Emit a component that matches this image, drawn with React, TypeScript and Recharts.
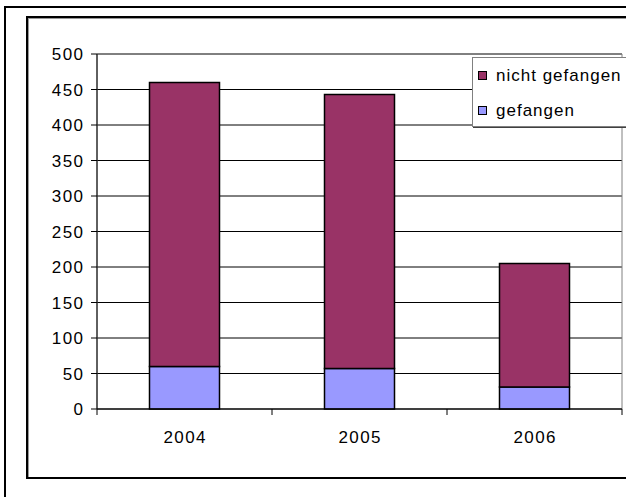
import React from "react";
import { Bar, BarChart, CartesianGrid, Legend, ReferenceArea, XAxis, YAxis } from "recharts";

const years = ["2004", "2005", "2006"];
const gefangen = [60, 57, 31];
const nichtGefangen = [400, 386, 174];
const yTicks = [0, 50, 100, 150, 200, 250, 300, 350, 400, 450, 500];

const COLORS = { nicht: "#993366", gef: "#9999ff" };
const FONT = "'Liberation Sans', Arial, sans-serif";

const data = years.map((year, i) => ({ year, gefangen: gefangen[i], nicht: nichtGefangen[i] }));

const legendItems = [
  { key: "nicht", label: "nicht gefangen", color: COLORS.nicht },
  { key: "gef", label: "gefangen", color: COLORS.gef },
];

function YearTick(props: any) {
  const { x, y, payload, index, width, visibleTicksCount } = props;
  const band = width / visibleTicksCount;
  const left = x - band / 2;
  return (
    <g>
      <line x1={left} x2={left} y1={y} y2={y + 6} stroke="#000" />
      {index === visibleTicksCount - 1 && <line x1={left + band} x2={left + band} y1={y} y2={y + 6} stroke="#000" />}
      <text x={x + 0.7} y={y + 34} textAnchor="middle" fill="#000" fontSize={17} letterSpacing={1.4} fontFamily={FONT}>
        {payload.value}
      </text>
    </g>
  );
}

function LegendBox() {
  return (
    <div
      style={{
        border: "1px solid #808080",
        boxShadow: "1px 1px 0 #404040",
        background: "#fff",
        width: 170,
        height: 70,
        boxSizing: "border-box",
        paddingLeft: 5,
        paddingTop: 4,
        fontFamily: FONT,
        fontSize: 17,
        color: "#000",
        textAlign: "left",
        whiteSpace: "nowrap",
      }}
    >
      {legendItems.map((item) => (
        <div key={item.key} style={{ display: "flex", alignItems: "center", height: 27, marginBottom: 8 }}>
          <span style={{ width: 7, height: 7, border: "1px solid #000", background: item.color, marginRight: 9, flex: "none" }} />
          <span style={{ letterSpacing: 1 }}>{item.label}</span>
        </div>
      ))}
    </div>
  );
}

export default function App() {
  return (
    <div style={{ position: "absolute", left: 0, top: 0, width: 626, height: 497, overflow: "hidden", background: "#fff" }}>
      <div style={{ position: "absolute", left: 4, top: 6, width: 700, height: 600, border: "2px solid #000", boxSizing: "border-box" }} />
      <div
        style={{
          position: "absolute",
          left: 26,
          top: 16,
          width: 700,
          height: 463,
          borderTop: "2px solid #000",
          borderLeft: "2px solid #000",
          borderBottom: "2px solid #000",
          boxShadow: "inset 1px 1px 0 #999",
          boxSizing: "border-box",
        }}
      />
      <div style={{ position: "absolute", left: 0, top: 0 }}>
        <BarChart width={626} height={497} data={data} margin={{ top: 54, right: 4, left: 0, bottom: 28 }} barCategoryGap="30%">
          <CartesianGrid vertical={false} stroke="#000" strokeDasharray="" />
          <ReferenceArea y1={0} y2={500} fill="none" stroke="#808080" strokeWidth={1} />
          <YAxis
            width={97}
            domain={[0, 500]}
            ticks={yTicks}
            interval={0}
            tickSize={6}
            tickMargin={6.6}
            stroke="#000"
            tick={{ fill: "#000", fontSize: 17, fontFamily: FONT, letterSpacing: 1.4 }}
          />
          <XAxis dataKey="year" height={60} tickSize={0} tickMargin={0} tickLine={false} stroke="#000" tick={<YearTick />} interval={0} />
          <Legend
            content={<LegendBox />}
            layout="vertical"
            align="center"
            verticalAlign="middle"
            wrapperStyle={{ position: "absolute", left: 472, top: 57, width: 170, height: 70 }}
          />
          <Bar dataKey="gefangen" stackId="a" fill={COLORS.gef} stroke="#000" strokeWidth={1.5} isAnimationActive={false} />
          <Bar dataKey="nicht" stackId="a" fill={COLORS.nicht} stroke="#000" strokeWidth={1.5} isAnimationActive={false} />
        </BarChart>
      </div>
    </div>
  );
}
